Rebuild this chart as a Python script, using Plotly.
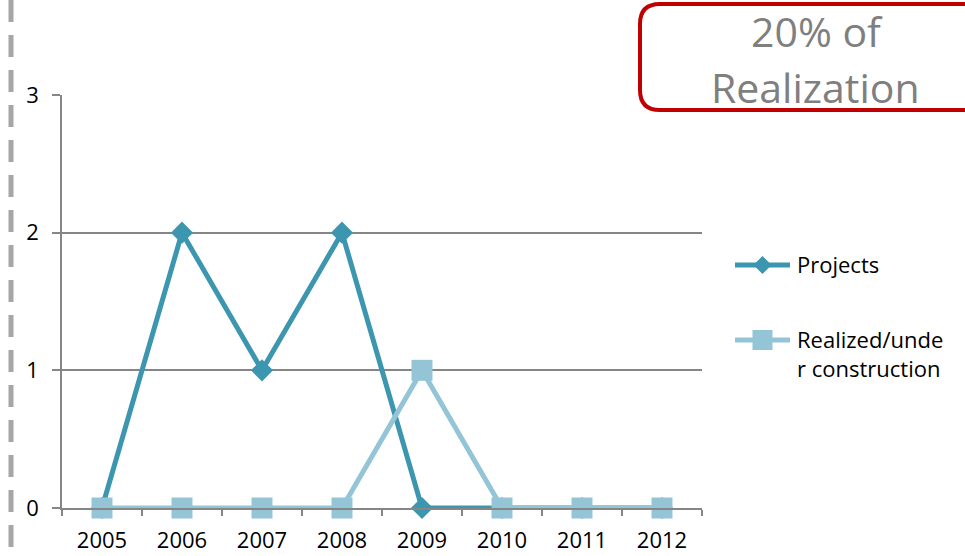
import plotly.graph_objects as go

# Chart data
years = ["2005", "2006", "2007", "2008", "2009", "2010", "2011", "2012"]
projects = [0, 2, 1, 2, 0, 0, 0, 0]
realized = [0, 0, 0, 0, 1, 0, 0, 0]
y_ticks = [0, 1, 2, 3]
series_names = ["Projects", "Realized/unde<br>r construction"]

W, H = 965, 556
L, R, T, B = 62, 263, 95, 48
PW, PH = W - L - R, H - T - B


def px(x):
    return (x - L) / PW


def py(y):
    return (H - B - y) / PH


FONT = "Open Sans"
DARK = "#3D96B0"
LIGHT = "#93C5D7"
GRID = "#868686"

fig = go.Figure()
fig.add_trace(go.Scatter(
    x=years, y=projects, name=series_names[0], mode="lines+markers",
    line=dict(color=DARK, width=5),
    marker=dict(symbol="diamond", size=17, color=DARK),
    cliponaxis=False, showlegend=False,
))
fig.add_trace(go.Scatter(
    x=years, y=realized, name=series_names[1], mode="lines+markers",
    line=dict(color=LIGHT, width=5),
    marker=dict(symbol="square", size=21, color=LIGHT),
    cliponaxis=False, showlegend=False,
))

# Rounded callout frame (partly off the right edge)
x0, x1, yt, yb, r = 640, 1010, 4, 110, 20
path = (
    f"M {px(x0 + r)} {py(yt)} L {px(x1)} {py(yt)} "
    f"M {px(x1)} {py(yb)} L {px(x0 + r)} {py(yb)} "
    f"Q {px(x0)} {py(yb)} {px(x0)} {py(yb - r)} "
    f"L {px(x0)} {py(yt + r)} "
    f"Q {px(x0)} {py(yt)} {px(x0 + r)} {py(yt)}"
)

shapes = [
    dict(type="path", xref="paper", yref="paper", path=path,
         line=dict(color="#C00000", width=4)),
    dict(type="line", xref="paper", yref="paper",
         x0=px(11), x1=px(11), y0=py(0), y1=py(H),
         line=dict(color="#A6A6A6", width=5, dash="22px,13px")),
]

annotations = [
    dict(text="20% of", xref="paper", yref="paper", x=px(817), y=py(31),
         xanchor="center", yanchor="middle", showarrow=False,
         font=dict(family=FONT, size=41, color="#7F7F7F")),
    dict(text="Realization", xref="paper", yref="paper", x=px(815), y=py(87),
         xanchor="center", yanchor="middle", showarrow=False,
         font=dict(family=FONT, size=41, color="#7F7F7F")),
]

# Legend keys: line sample with centred marker, then label
leg_x0, leg_x1, leg_text_x = 735, 790, 795
leg_rows = [265, 340]
leg_colors = [DARK, LIGHT]
for i, (yy, col) in enumerate(zip(leg_rows, leg_colors)):
    shapes.append(dict(type="line", xref="paper", yref="paper",
                       x0=px(leg_x0), x1=px(leg_x1), y0=py(yy), y1=py(yy),
                       line=dict(color=col, width=5)))
    cx = (leg_x0 + leg_x1) / 2
    if i == 0:
        h = 9
        d = (f"M {px(cx - h)} {py(yy)} L {px(cx)} {py(yy - h)} "
             f"L {px(cx + h)} {py(yy)} L {px(cx)} {py(yy + h)} Z")
    else:
        h = 10
        d = (f"M {px(cx - h)} {py(yy - h)} L {px(cx + h)} {py(yy - h)} "
             f"L {px(cx + h)} {py(yy + h)} L {px(cx - h)} {py(yy + h)} Z")
    shapes.append(dict(type="path", xref="paper", yref="paper", path=d,
                       fillcolor=col, line=dict(color=col, width=0)))
    annotations.append(dict(text=series_names[i], xref="paper", yref="paper",
                            x=px(leg_text_x), y=py(yy - 18), xanchor="left",
                            yanchor="top", align="left", showarrow=False,
                            font=dict(family=FONT, size=22, color="black")))

fig.update_layout(
    width=W, height=H,
    margin=dict(l=L, r=R, t=T, b=B),
    paper_bgcolor="white", plot_bgcolor="white",
    font=dict(family=FONT, size=22, color="black"),
    showlegend=False,
    shapes=shapes,
    annotations=annotations,
    xaxis=dict(type="category", range=[-0.5, 7.5], showgrid=False,
               showline=True, linecolor=GRID, linewidth=1.5,
               ticks="outside", tickson="boundaries", ticklen=6,
               tickcolor=GRID, tickwidth=1.5, ticklabelstandoff=12,
               zeroline=False, automargin=False),
    yaxis=dict(range=[0, 3], tickvals=y_ticks, showgrid=True,
               gridcolor=GRID, gridwidth=1.5,
               showline=True, linecolor=GRID, linewidth=1.5,
               ticks="outside", ticklen=8, tickcolor=GRID, tickwidth=1.5,
               ticklabelstandoff=9, zeroline=False, automargin=False),
)

fig.write_html("out.html")
